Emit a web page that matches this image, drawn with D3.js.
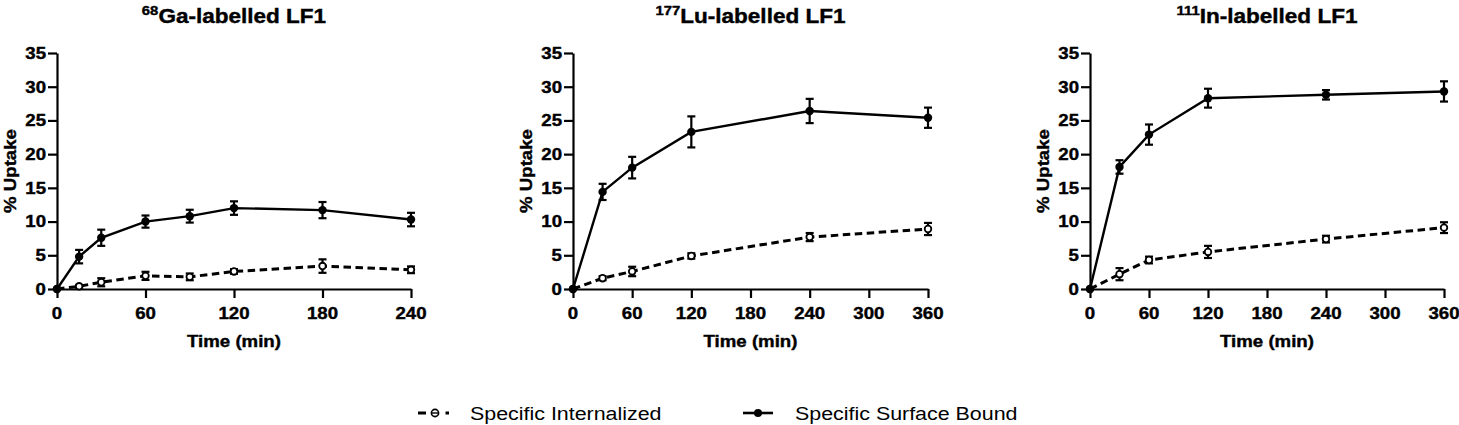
<!DOCTYPE html>
<html>
<head>
<meta charset="utf-8">
<script src="https://cdn.jsdelivr.net/npm/d3@7"></script>
<style>
  html, body { margin: 0; padding: 0; background: #fff; }
  svg { display: block; font-family: "Liberation Sans", Arial, sans-serif; }
  .b { font-weight: bold; stroke: #000; stroke-width: 0.4px; }
</style>
</head>
<body>
<svg id="chart" width="1459" height="425"></svg>
<script>
// ---------------- DATA ----------------
const panelTitles = [["68", "Ga-labelled LF1"], ["177", "Lu-labelled LF1"], ["111", "In-labelled LF1"]];
const seriesNames = ["Specific Internalized", "Specific Surface Bound"];
const yTicks = [0, 5, 10, 15, 20, 25, 30, 35];
const xTicksGa = [0, 60, 120, 180, 240];
const xTicksLong = [0, 60, 120, 180, 240, 300, 360];

const gaTime = [0, 15, 30, 60, 90, 120, 180, 240];
const gaSurface = [0, 4.8, 7.6, 10.0, 10.8, 12.0, 11.7, 10.3];
const gaSurfaceErr = [0, 1.0, 1.2, 0.9, 0.95, 1.0, 1.2, 1.0];
const gaInternal = [0, 0.4, 1.0, 1.95, 1.8, 2.6, 3.4, 2.85];
const gaInternalErr = [0, 0.2, 0.6, 0.6, 0.5, 0.35, 1.0, 0.5];

const luTime = [0, 30, 60, 120, 240, 360];
const luSurface = [0, 14.4, 18.0, 23.3, 26.4, 25.4];
const luSurfaceErr = [0, 1.2, 1.6, 2.3, 1.8, 1.5];
const luInternal = [0, 1.6, 2.6, 4.9, 7.7, 8.9];
const luInternalErr = [0, 0.3, 0.7, 0.4, 0.6, 0.9];

const inTime = [0, 30, 60, 120, 240, 360];
const inSurface = [0, 18.1, 22.9, 28.3, 28.8, 29.3];
const inSurfaceErr = [0, 1.0, 1.5, 1.4, 0.7, 1.5];
const inInternal = [0, 2.2, 4.3, 5.5, 7.4, 9.1];
const inInternalErr = [0, 0.9, 0.5, 0.9, 0.5, 0.8];

// ---------------- LAYOUT ----------------
const svg = d3.select("#chart");
const yTop = 53, yBottom = 289;
const SX = 1.13; // horizontal stretch of the reference's type

const panels = [
  { left: 57,   right: 411,  xmax: 240, xTicks: xTicksGa,   time: gaTime, surf: gaSurface, surfErr: gaSurfaceErr, int: gaInternal, intErr: gaInternalErr, title: panelTitles[0] },
  { left: 573,  right: 928,  xmax: 360, xTicks: xTicksLong, time: luTime, surf: luSurface, surfErr: luSurfaceErr, int: luInternal, intErr: luInternalErr, title: panelTitles[1] },
  { left: 1090, right: 1444, xmax: 360, xTicks: xTicksLong, time: inTime, surf: inSurface, surfErr: inSurfaceErr, int: inInternal, intErr: inInternalErr, title: panelTitles[2] }
];

const y = d3.scaleLinear().domain([0, 35]).range([yBottom, yTop]);

function stretchedText(parent, x, yy, anchor, sx) {
  return parent.append("g").attr("transform", `translate(${x},${yy}) scale(${sx || SX},1)`)
    .append("text").attr("text-anchor", anchor);
}

panels.forEach(p => {
  const x = d3.scaleLinear().domain([0, p.xmax]).range([p.left, p.right]);
  const g = svg.append("g");

  // Y axis
  const ya = g.append("g").attr("transform", `translate(${p.left},0)`)
    .call(d3.axisLeft(y).tickValues(yTicks).tickSize(9).tickSizeOuter(0).tickFormat(d3.format("d")));
  ya.selectAll("text").remove();
  yTicks.forEach(t => {
    stretchedText(g, p.left - 11, y(t) + 5.8, "end")
      .attr("class", "b").attr("font-size", 16.5).text(t);
  });

  // X axis
  const xa = g.append("g").attr("transform", `translate(0,${yBottom})`)
    .call(d3.axisBottom(x).tickValues(p.xTicks).tickSize(9).tickSizeOuter(0));
  xa.selectAll("text").remove();
  p.xTicks.forEach(t => {
    stretchedText(g, x(t), 318.5, "middle")
      .attr("class", "b").attr("font-size", 16.5).text(t);
  });
  [ya, xa].forEach(a => {
    a.selectAll("path, line").attr("stroke", "#000").attr("stroke-width", 2.2);
  });

  // Axis titles
  stretchedText(g, (p.left + p.right) / 2, 347, "middle")
    .attr("class", "b").attr("font-size", 16.5).text("Time (min)");
  g.append("g").attr("transform", `translate(${p.left - 41},${(yTop + yBottom) / 2}) rotate(-90) scale(${SX},1)`)
    .append("text").attr("text-anchor", "middle")
    .attr("class", "b").attr("font-size", 16.5).text("% Uptake");

  // Panel title
  const tt = stretchedText(g, (p.left + p.right) / 2, 23, "middle", 1.1)
    .attr("class", "b").attr("font-size", 20.5);
  tt.append("tspan").attr("font-size", 13.5).attr("dy", -8).text(p.title[0]);
  tt.append("tspan").attr("dy", 8).text(p.title[1]);

  // Series
  const surfData = p.time.map((t, i) => ({ t, v: p.surf[i], e: p.surfErr[i] }));
  const intData = p.time.map((t, i) => ({ t, v: p.int[i], e: p.intErr[i] }));
  const line = d3.line().x(d => x(d.t)).y(d => y(d.v));

  g.append("path").datum(intData).attr("d", line)
    .attr("fill", "none").attr("stroke", "#000").attr("stroke-width", 3)
    .attr("stroke-dasharray", "7.5,4.5");
  g.append("path").datum(surfData).attr("d", line)
    .attr("fill", "none").attr("stroke", "#000").attr("stroke-width", 2.4);

  function errorBars(data) {
    const eb = g.append("g").attr("stroke", "#000").attr("stroke-width", 2.2);
    data.filter(d => d.e > 0).forEach(d => {
      eb.append("line").attr("x1", x(d.t)).attr("x2", x(d.t)).attr("y1", y(d.v - d.e)).attr("y2", y(d.v + d.e));
      eb.append("line").attr("x1", x(d.t) - 4).attr("x2", x(d.t) + 4).attr("y1", y(d.v - d.e)).attr("y2", y(d.v - d.e));
      eb.append("line").attr("x1", x(d.t) - 4).attr("x2", x(d.t) + 4).attr("y1", y(d.v + d.e)).attr("y2", y(d.v + d.e));
    });
  }
  errorBars(intData);
  errorBars(surfData);

  g.append("g").selectAll("circle").data(intData).join("circle")
    .attr("cx", d => x(d.t)).attr("cy", d => y(d.v)).attr("r", 3.3)
    .attr("fill", "#fff").attr("stroke", "#000").attr("stroke-width", 1.8);
  g.append("g").selectAll("circle").data(surfData).join("circle")
    .attr("cx", d => x(d.t)).attr("cy", d => y(d.v)).attr("r", 4.2)
    .attr("fill", "#000");
});

// ---------------- LEGEND ----------------
const lg = svg.append("g");
lg.append("line").attr("x1", 418).attr("x2", 426).attr("y1", 413).attr("y2", 413)
  .attr("stroke", "#000").attr("stroke-width", 3);
lg.append("line").attr("x1", 445.5).attr("x2", 449).attr("y1", 413).attr("y2", 413)
  .attr("stroke", "#000").attr("stroke-width", 3);
lg.append("circle").attr("cx", 435).attr("cy", 413).attr("r", 3.6)
  .attr("fill", "#fff").attr("stroke", "#000").attr("stroke-width", 1.6);
lg.append("line").attr("x1", 432).attr("x2", 438).attr("y1", 413).attr("y2", 413)
  .attr("stroke", "#000").attr("stroke-width", 1.4);
stretchedText(lg, 470, 420, "start", 1.19).attr("font-size", 18).text(seriesNames[0]);

lg.append("line").attr("x1", 743).attr("x2", 773).attr("y1", 413).attr("y2", 413)
  .attr("stroke", "#000").attr("stroke-width", 2.6);
lg.append("circle").attr("cx", 758).attr("cy", 413).attr("r", 4).attr("fill", "#000");
stretchedText(lg, 795, 420, "start", 1.19).attr("font-size", 18).text(seriesNames[1]);
</script>
</body>
</html>
